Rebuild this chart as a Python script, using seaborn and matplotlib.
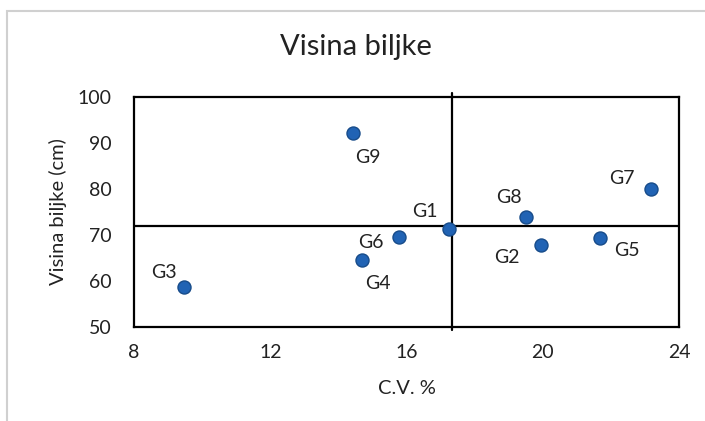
import matplotlib
matplotlib.use("Agg")
import matplotlib.pyplot as plt
import seaborn as sns
import pandas as pd
from matplotlib.patches import Rectangle

genotypes = ["G1", "G2", "G3", "G4", "G5", "G6", "G7", "G8", "G9"]
cv_percent = [17.25, 19.96, 9.48, 14.69, 21.68, 15.79, 23.17, 19.50, 14.44]
plant_height = [71.2, 67.9, 58.7, 64.5, 69.3, 69.5, 80.0, 73.95, 92.05]
x_ticks = [8, 12, 16, 20, 24]
y_ticks = [50, 60, 70, 80, 90, 100]
# label offsets in pixels (text left edge, vertical centre)
label_offsets = {
    "G1": (-37, 18), "G2": (-47, -13), "G3": (-33, 14), "G4": (3, -23), "G5": (14, -12),
    "G6": (-41, -5), "G7": (-42, 10), "G8": (-30, 19), "G9": (2, -24),
}

df = pd.DataFrame({"gen": genotypes, "cv": cv_percent, "h": plant_height})

sns.set_style("white")
plt.rcParams["font.family"] = ["Lato", "DejaVu Sans"]

fig = plt.figure(figsize=(7.05, 4.21), dpi=100)
ax = fig.add_axes([134/705, 1-327/421, 545/705, 230.3/421])

fig.patches.append(Rectangle((7/705, -0.1), 1.2, 1.1-11/421, transform=fig.transFigure,
                             fill=False, edgecolor="#d0d0d0", linewidth=1.5))

mx = sum(cv_percent) / len(cv_percent)
my = sum(plant_height) / len(plant_height)
ax.axvline(mx, ymin=-0.015, ymax=1.015, color="black", lw=1.6, clip_on=False, zorder=1)
ax.axhline(my, color="black", lw=1.6, zorder=1)

sns.scatterplot(data=df, x="cv", y="h", ax=ax, s=88, color="#2163b4",
                edgecolor="#184c8a", linewidth=1.0, zorder=3)

for g, x, y in zip(genotypes, cv_percent, plant_height):
    dx, dy = label_offsets[g]
    ax.annotate(g, (x, y), xytext=(dx, dy), textcoords="offset pixels",
                fontsize=14, color="#222222", ha="left", va="center")

ax.set_xlim(8, 24)
ax.set_ylim(50, 100)
ax.set_xticks(x_ticks)
ax.set_yticks(y_ticks)
ax.tick_params(axis="x", labelsize=14, length=0, pad=12, colors="#222222")
ax.tick_params(axis="y", labelsize=14, length=0, pad=16, colors="#222222")
for s in ax.spines.values():
    s.set_color("black")
    s.set_linewidth(1.6)

ax.set_xlabel("C.V. %", fontsize=14.5, color="#222222", labelpad=14)
ax.set_ylabel("Visina biljke (cm)", fontsize=14.5, color="#222222", labelpad=8)
fig.text(356/705, 1-47/421, "Visina biljke", ha="center", va="center", fontsize=21, color="#222222")

fig.savefig("out.png", dpi=100)
